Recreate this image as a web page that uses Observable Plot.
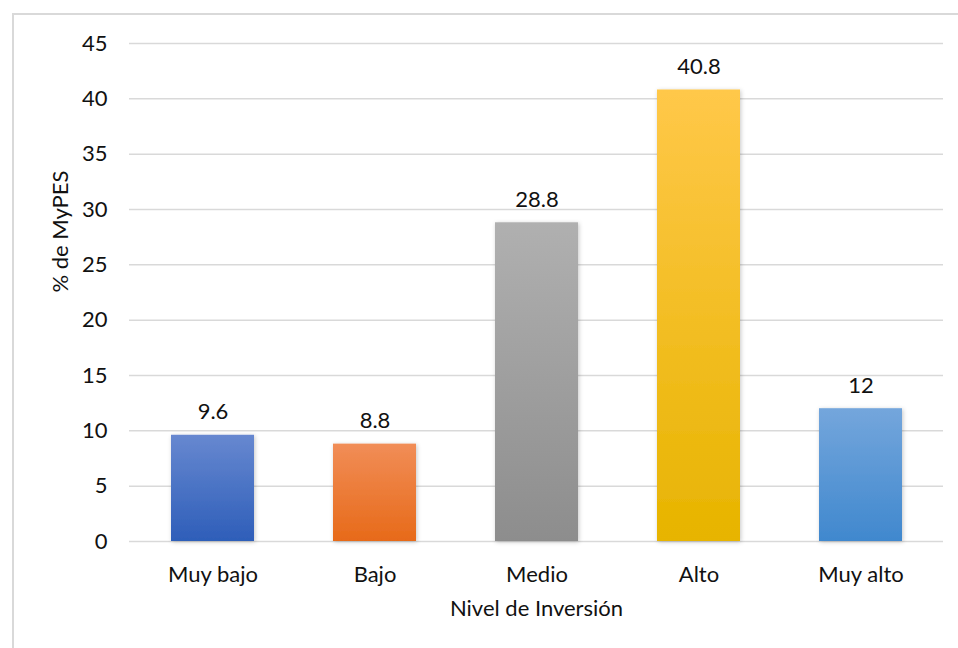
<!DOCTYPE html>
<html>
<head>
<meta charset="utf-8">
<script src="https://cdn.jsdelivr.net/npm/d3@7"></script>
<script src="https://cdn.jsdelivr.net/npm/@observablehq/plot@0.6"></script>
<style>
  html, body { margin: 0; padding: 0; background: #fff; }
  #chart { width: 958px; height: 648px; overflow: hidden; }
</style>
</head>
<body>
<div id="chart"></div>
<script>
const categories = ["Muy bajo", "Bajo", "Medio", "Alto", "Muy alto"];
const values = [9.6, 8.8, 28.8, 40.8, 12];
const valueLabels = ["9.6", "8.8", "28.8", "40.8", "12"];
const gradientTops = ["#6788d0", "#f18d57", "#b0b0b0", "#ffc849", "#74a6dc"];
const gradientBottoms = ["#2e5eb9", "#e76a19", "#8d8d8d", "#e7b400", "#4088ce"];
const yTicks = [0, 5, 10, 15, 20, 25, 30, 35, 40, 45];
const yLabel = "% de MyPES";
const xLabel = "Nivel de Inversión";

const data = categories.map((c, i) => ({
  cat: c, value: values[i], label: valueLabels[i], fill: `url(#grad${i})`
}));

const font = "Lato, 'Open Sans', sans-serif";
const textColor = "#111";
const fs = 22;

const defs = () => {
  const ns = "http://www.w3.org/2000/svg";
  const g = document.createElementNS(ns, "g");
  const d = document.createElementNS(ns, "defs");
  categories.forEach((c, i) => {
    const lg = document.createElementNS(ns, "linearGradient");
    lg.setAttribute("id", `grad${i}`);
    lg.setAttribute("x1", "0"); lg.setAttribute("y1", "0");
    lg.setAttribute("x2", "0"); lg.setAttribute("y2", "1");
    const s1 = document.createElementNS(ns, "stop");
    s1.setAttribute("offset", "0"); s1.setAttribute("stop-color", gradientTops[i]);
    const s2 = document.createElementNS(ns, "stop");
    s2.setAttribute("offset", "1"); s2.setAttribute("stop-color", gradientBottoms[i]);
    lg.appendChild(s1); lg.appendChild(s2);
    d.appendChild(lg);
  });
  const f = document.createElementNS(ns, "filter");
  f.setAttribute("id", "shadow");
  f.setAttribute("x", "-20%"); f.setAttribute("y", "-20%");
  f.setAttribute("width", "140%"); f.setAttribute("height", "140%");
  const ds = document.createElementNS(ns, "feDropShadow");
  ds.setAttribute("dx", "1"); ds.setAttribute("dy", "1");
  ds.setAttribute("stdDeviation", "2");
  ds.setAttribute("flood-color", "#000"); ds.setAttribute("flood-opacity", "0.22");
  f.appendChild(ds);
  d.appendChild(f);
  g.appendChild(d);
  return g;
};

const border = (index, scales, values, dims) => {
  const ns = "http://www.w3.org/2000/svg";
  const r = document.createElementNS(ns, "rect");
  r.setAttribute("x", 13); r.setAttribute("y", 14);
  r.setAttribute("width", dims.width + 20); r.setAttribute("height", dims.height + 20);
  r.setAttribute("fill", "none");
  r.setAttribute("stroke", "#d9d9d9");
  r.setAttribute("stroke-width", 2);
  return r;
};

const chart = Plot.plot({
  width: 958,
  height: 648,
  marginLeft: 129,
  marginRight: 15,
  marginTop: 43,
  marginBottom: 107,
  style: { fontFamily: font, fontSize: fs + "px", color: textColor, background: "#fff" },
  x: { domain: categories, paddingInner: 0.49, paddingOuter: 0.245, label: null },
  y: { domain: [0, 45], label: null },
  color: { type: "identity" },
  marks: [
    defs,
    border,
    Plot.gridY(yTicks, { stroke: "#d9d9d9", strokeWidth: 1.5, strokeOpacity: 1 }),
    Plot.barY(data, { x: "cat", y: "value", fill: "fill", render: (i, s, v, d, c, next) => { const g = next(i, s, v, d, c); g.setAttribute("filter", "url(#shadow)"); return g; } }),
    Plot.text(data, { x: "cat", y: "value", text: "label", dy: -23, fill: textColor, fontSize: fs, lineAnchor: "middle" }),
    Plot.axisY({ ticks: yTicks, tickSize: 0, tickPadding: 22, label: null, fontSize: fs, fill: textColor }),
    Plot.axisX({ tickSize: 0, tickPadding: 25, label: null, fontSize: fs, fill: textColor }),
    Plot.text([yLabel], { frameAnchor: "left", dx: -69, rotate: -90, text: d => d, fontSize: fs, fill: textColor }),
    Plot.text([xLabel], { frameAnchor: "bottom", dy: 74, text: d => d, fontSize: fs, fill: textColor })
  ]
});
document.getElementById("chart").appendChild(chart);
</script>
</body>
</html>
